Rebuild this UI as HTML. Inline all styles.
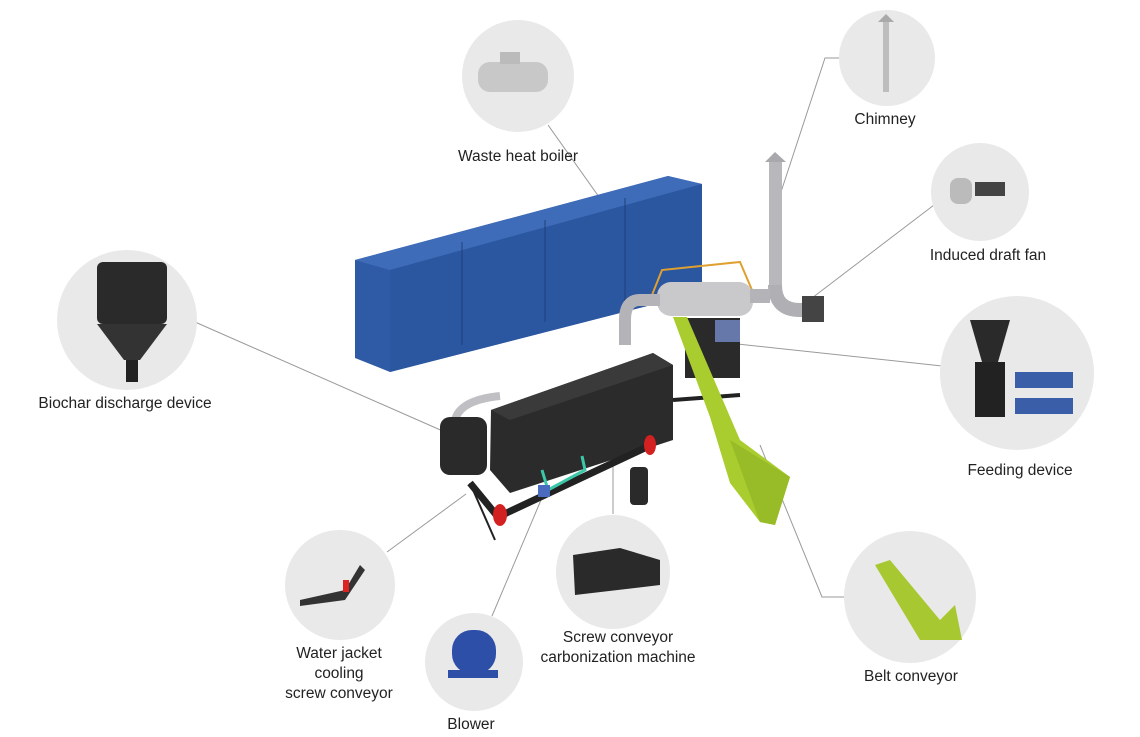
<!DOCTYPE html>
<html><head><meta charset="utf-8"><style>
html,body{margin:0;padding:0;background:#fff;width:1140px;height:737px;overflow:hidden}
svg text{font-family:"Liberation Sans",sans-serif;font-size:15.5px;fill:#222;text-anchor:middle}
</style></head><body>
<svg width="1140" height="737" viewBox="0 0 1140 737" xmlns="http://www.w3.org/2000/svg">
<rect width="1140" height="737" fill="#fff"/>
<!-- connector lines -->
<g stroke="#9a9a9a" stroke-width="1" fill="none">
<line x1="548" y1="125" x2="665" y2="290"/>
<polyline points="840,58 825,58 780,195"/>
<line x1="934" y1="205" x2="812" y2="298"/>
<line x1="195" y1="322" x2="445" y2="432"/>
<line x1="942" y1="366" x2="728" y2="343"/>
<polyline points="846,597 822,597 760,445"/>
<line x1="387" y1="552" x2="466" y2="494"/>
<line x1="492" y1="616" x2="541" y2="500"/>
<line x1="613" y1="514" x2="613" y2="420"/>
</g>
<!-- circles -->
<g fill="#e9e9e9">
<circle cx="518" cy="76" r="56"/>
<circle cx="887" cy="58" r="48"/>
<circle cx="980" cy="192" r="49"/>
<circle cx="127" cy="320" r="70"/>
<circle cx="1017" cy="373" r="77"/>
<circle cx="910" cy="597" r="66"/>
<circle cx="340" cy="585" r="55"/>
<circle cx="474" cy="662" r="49"/>
<circle cx="613" cy="572" r="57"/>
</g>
<!-- circle icons -->
<g>
<rect x="478" y="62" width="70" height="30" rx="12" fill="#c8c8c8"/>
<rect x="500" y="52" width="20" height="12" fill="#bbb"/>
<rect x="883" y="20" width="6" height="72" fill="#bdbdbd"/><polygon points="878,22 886,14 894,22" fill="#aaa"/>
<rect x="950" y="178" width="22" height="26" rx="8" fill="#bbb"/><rect x="975" y="182" width="30" height="14" fill="#444"/>
<rect x="97" y="262" width="70" height="62" rx="6" fill="#2a2a2a"/><polygon points="97,324 167,324 140,360 124,360" fill="#333"/><rect x="126" y="360" width="12" height="22" fill="#222"/>
<polygon points="970,320 1010,320 998,362 982,362" fill="#2a2a2a"/><rect x="975" y="362" width="30" height="55" fill="#222"/><rect x="1015" y="372" width="58" height="16" fill="#3a5fa8"/><rect x="1015" y="398" width="58" height="16" fill="#3a5fa8"/>
<polygon points="875,565 890,560 940,620 955,605 962,640 920,640" fill="#a8c832"/>
<polygon points="300,600 345,590 360,565 365,570 345,600 300,606" fill="#333"/><rect x="343" y="580" width="6" height="12" fill="#d22"/>
<rect x="452" y="630" width="44" height="44" rx="20" fill="#2e4fa8"/><rect x="448" y="670" width="50" height="8" fill="#2e4fa8"/>
<polygon points="573,555 620,548 660,560 660,585 575,595" fill="#2a2a2a"/>
</g>
<!-- container -->
<polygon points="355,260 668,176 702,184 702,292 390,372 355,358" fill="#2f5ba6"/>
<polygon points="355,260 668,176 702,184 390,270" fill="#3f6cb8"/>
<polygon points="390,270 702,184 702,292 390,372" fill="#2b56a0"/>
<g stroke="#1f3f7a" stroke-width="1">
<line x1="462" y1="242" x2="462" y2="345"/><line x1="545" y1="220" x2="545" y2="322"/><line x1="625" y1="198" x2="625" y2="302"/>
</g>
<!-- chimney & pipes -->
<rect x="769" y="160" width="13" height="130" fill="#b8b8bc"/>
<polygon points="765,162 775,152 786,162" fill="#a9a9ad"/>
<path d="M775 285 Q775 310 800 310 L810 310" stroke="#b0b0b4" stroke-width="14" fill="none"/>
<rect x="802" y="296" width="22" height="26" fill="#444"/>
<!-- railing -->
<polyline points="650,300 662,270 740,262 752,290" stroke="#e0a030" stroke-width="2" fill="none"/>
<!-- boiler -->
<rect x="657" y="282" width="96" height="34" rx="14" fill="#c9c9cc"/>
<path d="M660 300 L640 300 Q625 300 625 320 L625 345" stroke="#b4b4b8" stroke-width="12" fill="none"/>
<path d="M750 296 L770 296" stroke="#b4b4b8" stroke-width="14"/>
<!-- feeder -->
<rect x="685" y="318" width="55" height="60" fill="#2a2a2a"/>
<rect x="715" y="320" width="25" height="22" fill="#6677aa"/>
<!-- black box -->
<polygon points="491,410 653,353 673,365 673,440 510,493 490,470" fill="#2b2b2b"/>
<polygon points="491,410 653,353 673,365 510,420" fill="#3a3a3a"/>
<line x1="673" y1="400" x2="740" y2="395" stroke="#222" stroke-width="4"/>
<path d="M455 420 Q460 400 500 396" stroke="#c0c0c4" stroke-width="8" fill="none"/>
<!-- cylinder -->
<rect x="440" y="417" width="47" height="58" rx="10" fill="#2a2a2a"/>
<!-- screw conveyor -->
<polyline points="470,483 498,517 647,447" stroke="#222" stroke-width="7" fill="none"/>
<line x1="470" y1="483" x2="495" y2="540" stroke="#222" stroke-width="2"/>
<ellipse cx="500" cy="515" rx="7" ry="11" fill="#d32020"/>
<ellipse cx="650" cy="445" rx="6" ry="10" fill="#d32020"/>
<rect x="630" y="467" width="18" height="38" rx="4" fill="#2a2a2a"/>
<polyline points="542,470 548,490 585,470 582,456" stroke="#3cc8a8" stroke-width="3" fill="none"/>
<rect x="538" y="485" width="12" height="12" fill="#4a6ac0"/>
<!-- green conveyor -->
<polygon points="673,317 687,317 740,440 790,477 775,525 760,522 730,483 710,417" fill="#a9cc2f"/>
<polygon points="730,440 790,477 775,525 760,522" fill="#98bb28"/>
<!-- labels -->
<text x="518" y="161">Waste heat boiler</text>
<text x="885" y="124">Chimney</text>
<text x="988" y="260">Induced draft fan</text>
<text x="125" y="408">Biochar discharge device</text>
<text x="1020" y="475">Feeding device</text>
<text x="911" y="681">Belt conveyor</text>
<text x="339" y="658">Water jacket</text>
<text x="339" y="678">cooling</text>
<text x="339" y="698">screw conveyor</text>
<text x="471" y="729">Blower</text>
<text x="618" y="642">Screw conveyor</text>
<text x="618" y="662">carbonization machine</text>
</svg>
</body></html>
